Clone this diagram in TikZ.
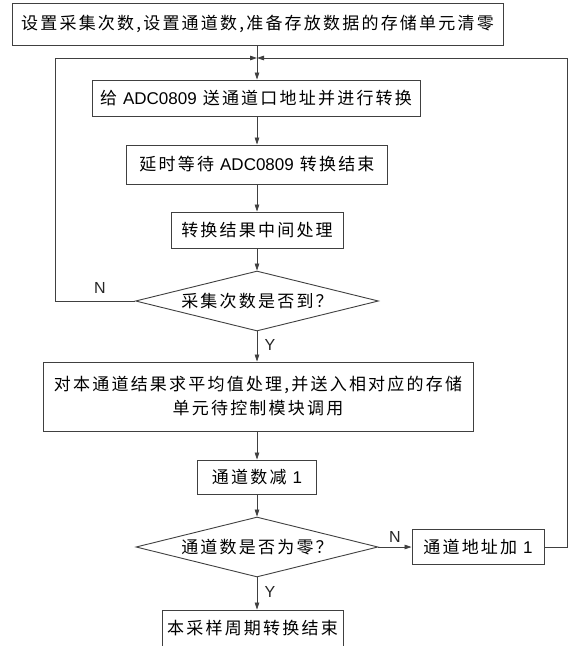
\documentclass[tikz,border=0pt]{standalone}
\usepackage{fontspec}
\newfontfamily\cjk[LetterSpace=13]{Noto Sans CJK SC}
\newfontfamily\lat{Liberation Sans}
\usetikzlibrary{shapes.geometric,arrows.meta}
\newcommand\La[1]{{\lat #1}}
\definecolor{linegray}{HTML}{404040}
\begin{document}
\begin{tikzpicture}[x=1pt,y=-1pt,
  box/.style={draw=linegray, line width=0.9pt, fill=white, inner sep=0pt, align=center,
    font=\cjk\fontsize{17}{24}\selectfont},
  dia/.style={box, diamond, shape aspect=4},
  arr/.style={draw=linegray, line width=0.8pt, -{Triangle[length=7pt,width=4.5pt]}},
  lbl/.style={font=\lat\fontsize{16}{18}\selectfont, inner sep=0pt, text=black!85}]
\useasboundingbox (0,0) rectangle (572,646);
\fill[white] (0,0) rectangle (572,646);

\node[box, minimum width=491pt, minimum height=42pt] (top) at (257.5,24)
  {设置采集次数,设置通道数,准备存放数据的存储单元清零};
\node[box, minimum width=328pt, minimum height=36pt] (b2) at (256,98)
  {给 \La{ADC0809} 送通道口地址并进行转换};
\node[box, minimum width=261pt, minimum height=39pt] (b3) at (257,164.5)
  {延时等待 \La{ADC0809} 转换结束};
\node[box, minimum width=172pt, minimum height=36pt] (b4) at (257,230)
  {转换结果中间处理};
\node[dia, minimum width=243pt, minimum height=60pt] (d1) at (257,301)
  {采集次数是否到？};
\node[box, minimum width=430pt, minimum height=69pt] (b5) at (258,396.5)
  {对本通道结果求平均值处理,并送入相对应的存储\\单元待控制模块调用};
\node[box, minimum width=119pt, minimum height=34pt] (b6) at (257,477)
  {通道数减 \La{1}};
\node[dia, minimum width=242pt, minimum height=60pt] (d2) at (257,547)
  {通道数是否为零？};
\node[box, minimum width=132pt, minimum height=35pt] (b7) at (478,547)
  {通道地址加 \La{1}};
\node[box, minimum width=181pt, minimum height=37pt] (b8) at (252.5,628.5)
  {本采样周期转换结束};

\coordinate (j) at (257,58);
\coordinate (cL) at (55,58);
\coordinate (cR) at (567,58);

\draw[arr] (top.south -| j) -- (j |- b2.north);
\draw[arr] (d1.west) -| (cL) -- (j);
\draw[arr] (b7.east) -| (cR) -- (j);
\draw[arr] (b2.south -| j) -- (j |- b3.north);
\draw[arr] (b3.south -| j) -- (j |- b4.north);
\draw[arr] (b4.south -| j) -- (d1.north);
\draw[arr] (d1.south) -- (d1.south |- b5.north);
\draw[arr] (b5.south -| j) -- (j |- b6.north);
\draw[arr] (b6.south -| j) -- (d2.north);
\draw[arr] (d2.east) -- (b7.west);
\draw[arr] (d2.south) -- (d2.south |- b8.north);

\node[lbl] (n1) at (100,288) {N};
\node[lbl] (y1) at (270,345) {Y};
\node[lbl] (n2) at (395,537) {N};
\node[lbl] (y2) at (270,592) {Y};
\end{tikzpicture}
\end{document}
